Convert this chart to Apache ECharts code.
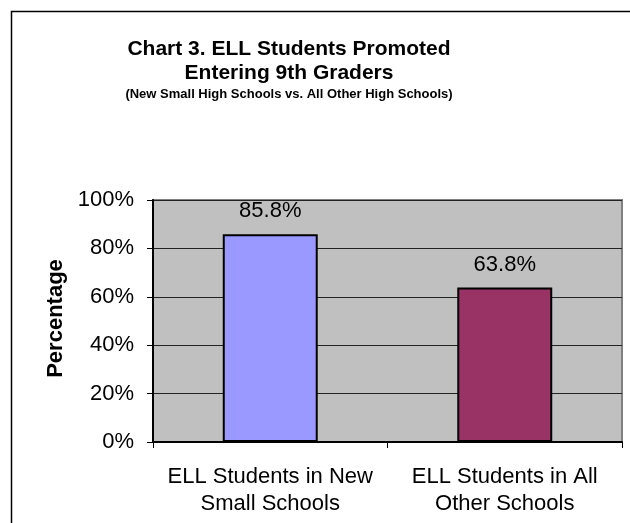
<!DOCTYPE html>
<html>
<head>
<meta charset="utf-8">
<script src="https://cdn.jsdelivr.net/npm/echarts@6/dist/echarts.min.js"></script>
<style>
html,body{margin:0;padding:0;background:#fff;}
#c{width:630px;height:523px;}
</style>
</head>
<body>
<div id="c"></div>
<script>
var categories = ['ELL Students in New\nSmall Schools', 'ELL Students in All\nOther Schools'];
var values = [85.8, 63.8];
var barColors = ['#9999FF', '#993366'];
var yTicks = [0, 20, 40, 60, 80, 100];

var FONT = "'Liberation Sans', Arial, sans-serif";
var chart = echarts.init(document.getElementById('c'), null, {renderer: 'canvas'});
chart.setOption({
  backgroundColor: '#ffffff',
  animation: false,
  title: [{
    text: 'Chart 3. ELL Students Promoted\nEntering 9th Graders',
    left: 284, top: 32, textAlign: 'center',
    textStyle: {fontFamily: FONT, fontWeight: 'bold', fontSize: 21, lineHeight: 24, color: '#000'}
  }, {
    text: '(New Small High Schools vs. All Other High Schools)',
    left: 284, top: 81, textAlign: 'center',
    textStyle: {fontFamily: FONT, fontWeight: 'bold', fontSize: 13, lineHeight: 16, color: '#000'}
  }],
  graphic: [{
    type: 'rect', left: 9, top: 9, z: 0, silent: true,
    shape: {x: 0, y: 0, width: 640, height: 540},
    style: {fill: 'none', stroke: '#000', lineWidth: 1.5}
  }],
  grid: {
    left: 153, top: 200, right: 8, bottom: 81,
    show: true, backgroundColor: '#C0C0C0', borderColor: '#808080', borderWidth: 2
  },
  xAxis: {
    type: 'category', data: categories, boundaryGap: true,
    axisLine: {lineStyle: {color: '#000', width: 2}},
    axisTick: {show: true, length: 6, alignWithLabel: false, lineStyle: {color: '#000', width: 1}},
    axisLabel: {fontFamily: FONT, fontSize: 22, lineHeight: 27, color: '#000', margin: 21, interval: 0}
  },
  yAxis: {
    type: 'value', min: 0, max: 100, interval: 20,
    name: 'Percentage', nameLocation: 'middle', nameRotate: 90, nameGap: 85,
    nameTextStyle: {fontFamily: FONT, fontWeight: 'bold', fontSize: 22, color: '#000', padding: [0, 0, 0, 5]},
    axisLine: {show: true, lineStyle: {color: '#000', width: 2}},
    axisTick: {show: true, length: 6, lineStyle: {color: '#000', width: 1}},
    axisLabel: {fontFamily: FONT, fontSize: 22, color: '#000', margin: 19,
      formatter: function (v) { return yTicks.indexOf(v) >= 0 ? v + '%' : ''; }},
    splitLine: {show: true, lineStyle: {color: '#222', width: 1}}
  },
  series: [{
    type: 'bar',
    barWidth: '40.5%',
    data: values.map(function (v, i) {
      return {value: v, itemStyle: {color: barColors[i], borderColor: '#000', borderWidth: 2}};
    }),
    label: {
      show: true, position: 'top', distance: 12,
      fontFamily: FONT, fontSize: 22, color: '#000',
      formatter: function (p) { return p.value.toFixed(1) + '%'; }
    }
  }]
});
</script>
</body>
</html>
